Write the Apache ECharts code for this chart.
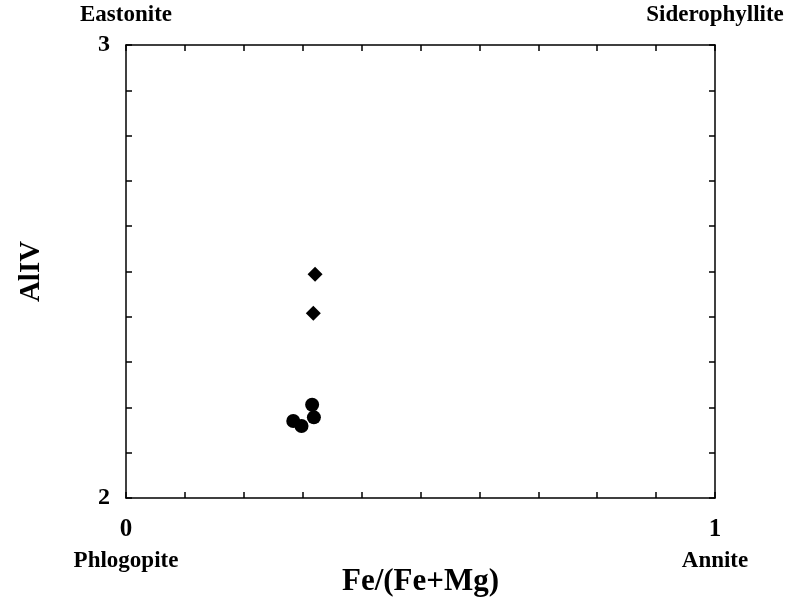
<!DOCTYPE html>
<html>
<head>
<meta charset="utf-8">
<script src="https://cdn.jsdelivr.net/npm/echarts@6/dist/echarts.min.js"></script>
<style>html,body{margin:0;padding:0;background:#fff}#c{width:795px;height:606px}</style>
</head>
<body>
<div id="c"></div>
<script>
// Data
const circleX = [0.316, 0.319, 0.284, 0.298];
const circleY = [2.206, 2.178, 2.170, 2.159];
const diamondX = [0.321, 0.318];
const diamondY = [2.494, 2.408];
const xTickLabels = {0: '0', 1: '1'};
const yTickLabels = {2: '2', 3: '3'};
const topCornerLabels = {0: 'Eastonite', 1: 'Siderophyllite'};
const bottomCornerLabels = {0: 'Phlogopite', 1: 'Annite'};
const xTitle = 'Fe/(Fe+Mg)';
const yTitle = 'AlIV';

const serif = '"Liberation Serif","Times New Roman",serif';
const pick = (map) => (v) => {
  const k = Math.round(v * 1000) / 1000;
  return map[k] !== undefined ? map[k] : '';
};
const lineStyle = {color: '#000', width: 1.5};
const baseX = {
  type: 'value', min: 0, max: 1, interval: 0.1, gridIndex: 0,
  splitLine: {show: false},
  axisLine: {show: true, onZero: false, lineStyle},
  axisTick: {show: true, inside: true, length: 6, lineStyle}
};
const baseY = {
  type: 'value', min: 2, max: 3, interval: 0.1, gridIndex: 0,
  splitLine: {show: false},
  axisLine: {show: true, onZero: false, lineStyle},
  axisTick: {show: true, inside: true, length: 6, lineStyle}
};

const chart = echarts.init(document.getElementById('c'));
chart.setOption({
  backgroundColor: '#fff',
  animation: false,
  grid: {left: 126, right: 80, top: 45, bottom: 108, containLabel: false},
  xAxis: [
    Object.assign({}, baseX, {
      position: 'bottom',
      name: xTitle, nameLocation: 'middle', nameGap: 68,
      nameTextStyle: {fontFamily: serif, fontWeight: 'bold', fontSize: 31, color: '#000'},
      axisLabel: {show: true, margin: 19, formatter: pick(xTickLabels), showMinLabel: true, showMaxLabel: true,
        fontFamily: serif, fontWeight: 'bold', fontSize: 25, color: '#000'}
    }),
    Object.assign({}, baseX, {
      position: 'top',
      axisLabel: {show: true, margin: 18, formatter: pick(topCornerLabels), showMinLabel: true, showMaxLabel: true,
        fontFamily: serif, fontWeight: 'bold', fontSize: 23, color: '#000'}
    }),
    Object.assign({}, baseX, {
      position: 'bottom',
      axisLine: {show: false}, axisTick: {show: false},
      axisLabel: {show: true, margin: 52, formatter: pick(bottomCornerLabels), showMinLabel: true, showMaxLabel: true,
        fontFamily: serif, fontWeight: 'bold', fontSize: 23, color: '#000'}
    })
  ],
  yAxis: [
    Object.assign({}, baseY, {
      position: 'left',
      name: yTitle, nameLocation: 'middle', nameGap: 80, nameRotate: 90,
      nameTextStyle: {fontFamily: serif, fontWeight: 'bold', fontSize: 29, color: '#000'},
      axisLabel: {show: true, margin: 16, formatter: pick(yTickLabels), showMinLabel: true, showMaxLabel: true,
        fontFamily: serif, fontWeight: 'bold', fontSize: 24, color: '#000'}
    }),
    Object.assign({}, baseY, {
      position: 'right',
      axisLabel: {show: false}
    })
  ],
  series: [
    {
      type: 'scatter', xAxisIndex: 0, yAxisIndex: 0,
      symbol: 'circle', symbolSize: 14,
      itemStyle: {color: '#000', opacity: 1},
      data: circleX.map((x, i) => [x, circleY[i]])
    },
    {
      type: 'scatter', xAxisIndex: 0, yAxisIndex: 0,
      symbol: 'diamond', symbolSize: 15,
      itemStyle: {color: '#000', opacity: 1},
      data: diamondX.map((x, i) => [x, diamondY[i]])
    }
  ]
});
</script>
</body>
</html>
